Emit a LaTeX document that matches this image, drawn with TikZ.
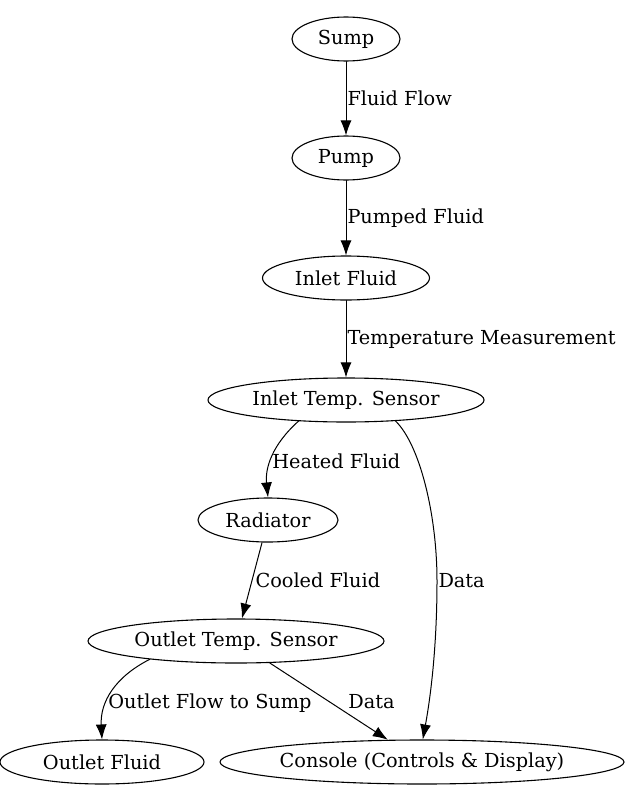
\documentclass[tikz,border=0pt]{standalone}
\usepackage{fontspec}
\setmainfont{DejaVu Serif}
\usetikzlibrary{shapes.geometric,arrows.meta}

\begin{document}
\begin{tikzpicture}[
    x=1pt,y=-1pt,
    font=\fontsize{19.3}{22}\selectfont,
    line cap=round,
    line join=round,
    state/.style={ellipse,draw,line width=1.1pt,minimum height=44pt,inner sep=0pt},
    flow/.style={draw,line width=1pt,-{Latex[length=15pt,width=11pt]}},
    lbl/.style={anchor=west,inner sep=1pt}
]

\useasboundingbox (0,0) rectangle (624,787);

% nodes
\node[state,minimum width=108pt] (sump) at (346,39) {Sump};
\node[state,minimum width=108pt] (pump) at (346,158) {Pump};
\node[state,minimum width=167pt] (ifluid) at (346,278) {Inlet Fluid};
\node[state,minimum width=276pt] (itemp) at (346,400) {Inlet Temp. Sensor};
\node[state,minimum width=140pt] (rad) at (268,520) {Radiator};
\node[state,minimum width=296pt] (otemp) at (236,641) {Outlet Temp. Sensor};
\node[state,minimum width=204pt] (ofluid) at (102,762) {Outlet Fluid};
\node[state,minimum width=404pt] (console) at (422,762) {Console (Controls \& Display)};

% straight edges
\draw[flow] (sump) -- node[lbl]{Fluid Flow} (pump);
\draw[flow] (pump) -- node[lbl]{Pumped Fluid} (ifluid);
\draw[flow] (ifluid) -- node[lbl]{Temperature Measurement} (itemp);
\draw[flow] (rad) -- node[lbl,xshift=2pt]{Cooled Fluid} (otemp);
\draw[flow] (otemp) -- node[lbl,xshift=18pt]{Data} (console);

% curved edges
\draw[flow] (itemp.204) .. controls (272,445) and (265,468)
    .. node[lbl,pos=0.55]{Heated Fluid} (rad.north);
\draw[flow] (itemp.-23) .. controls (420,445) and (437,515)
    .. (437,581) node[lbl]{Data}
    .. controls (437,650) and (430,700) .. (console.88);
\draw[flow] (otemp.192) .. controls (115,677) and (100,702)
    .. node[lbl,pos=0.63]{Outlet Flow to Sump} (ofluid.north);

\end{tikzpicture}
\end{document}
